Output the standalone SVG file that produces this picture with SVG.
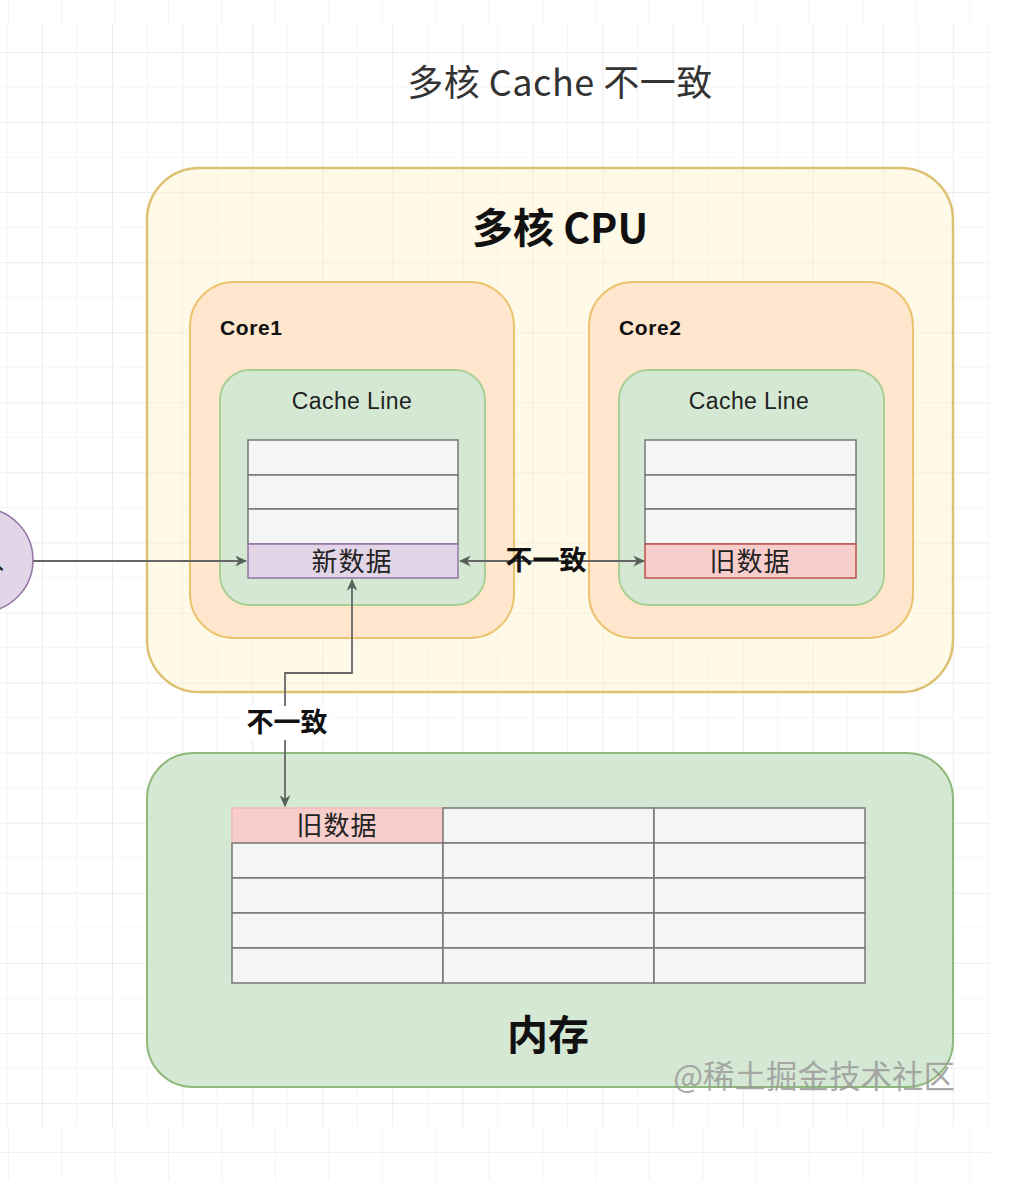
<svg xmlns="http://www.w3.org/2000/svg" width="1024" height="1180" viewBox="0 0 1024 1180">
<defs>
<pattern id="gMain" x="42" y="52" width="70.07" height="70.07" patternUnits="userSpaceOnUse">
<path d="M0 0V70.07M0 0H70.07" fill="none" stroke="#e6e6e6" stroke-width="1.5"/>
<path d="M35.03 0V70.07M0 35.03H70.07" fill="none" stroke="#f5f5f5" stroke-width="1"/>
</pattern>
<pattern id="gBand" x="8" y="0" width="53.4" height="53.4" patternUnits="userSpaceOnUse">
<path d="M0 0V53.4" fill="none" stroke="#efeded" stroke-width="1.5"/>
</pattern>
<pattern id="gBand2" x="8" y="1152" width="53.4" height="53.4" patternUnits="userSpaceOnUse">
<path d="M0 0V53.4M0 0H53.4" fill="none" stroke="#efeded" stroke-width="1.5"/>
</pattern>
<marker id="arr" viewBox="0 0 10 10" refX="9" refY="5" markerWidth="12" markerHeight="12" orient="auto-start-reverse" markerUnits="userSpaceOnUse">
<path d="M0 0.5L10 5L0 9.5L3 5Z" fill="#56635a"/>
</marker>
<style>
.cjk{font-family:"Noto Sans CJK SC","Noto Sans",sans-serif}
.lat{font-family:"Liberation Sans","Noto Sans CJK SC",sans-serif}
.cell{fill:#f5f5f5;stroke:#777;stroke-width:1.5}
.conn{fill:none;stroke:#666;stroke-width:1.8}
</style>
</defs>
<rect width="1024" height="1180" fill="#ffffff"/>
<rect x="0" y="0" width="990" height="24" fill="url(#gBand)"/>
<rect x="0" y="24" width="990" height="1103" fill="url(#gMain)"/>
<rect x="0" y="1127" width="990" height="53" fill="url(#gBand2)"/>

<text class="cjk" x="560" y="96" font-size="36" fill="#333" text-anchor="middle" letter-spacing="0.5">多核 Cache 不一致</text>

<g id="cpu">
<rect x="147" y="168" width="806" height="524" rx="52" fill="#fff2cc" fill-opacity="0.45" stroke="#dcc173" stroke-width="2.5"/>
<text class="cjk" x="560" y="243" font-size="41" font-weight="bold" fill="#111" text-anchor="middle">多核 CPU</text>
</g>

<g id="core1">
<rect x="190" y="282" width="324" height="356" rx="44" fill="#ffe6cc" stroke="#ecc36e" stroke-width="2"/>
<text class="lat" x="220" y="335" font-size="21" font-weight="bold" fill="#111" letter-spacing="0.6">Core1</text>
</g>
<g id="core2">
<rect x="589" y="282" width="324" height="356" rx="44" fill="#ffe6cc" stroke="#ecc36e" stroke-width="2"/>
<text class="lat" x="619" y="335" font-size="21" font-weight="bold" fill="#111" letter-spacing="0.6">Core2</text>
</g>

<g id="cacheline1">
<rect x="220" y="370" width="265" height="235" rx="30" fill="#d5e8d4" stroke="#a9cf94" stroke-width="2"/>
<text class="lat" x="352" y="409" font-size="23" fill="#222" text-anchor="middle" letter-spacing="0.4">Cache Line</text>
<rect class="cell" x="248" y="440" width="210" height="35"/>
<rect class="cell" x="248" y="475" width="210" height="34"/>
<rect class="cell" x="248" y="509" width="210" height="35"/>
</g>
<g id="newdata">
<rect x="248" y="544" width="210" height="34" fill="#e1d5e7" stroke="#9673a6" stroke-width="1.5"/>
<text class="cjk" x="352" y="571" font-size="26" fill="#222" text-anchor="middle" letter-spacing="1">新数据</text>
</g>

<g id="cacheline2">
<rect x="619" y="370" width="265" height="235" rx="30" fill="#d5e8d4" stroke="#a9cf94" stroke-width="2"/>
<text class="lat" x="749" y="409" font-size="23" fill="#222" text-anchor="middle" letter-spacing="0.4">Cache Line</text>
<rect class="cell" x="645" y="440" width="211" height="35"/>
<rect class="cell" x="645" y="475" width="211" height="34"/>
<rect class="cell" x="645" y="509" width="211" height="35"/>
</g>
<g id="olddata2">
<rect x="645" y="544" width="211" height="34" fill="#f8cecc" stroke="#c0504d" stroke-width="1.5"/>
<text class="cjk" x="750" y="571" font-size="26" fill="#222" text-anchor="middle" letter-spacing="1">旧数据</text>
</g>

<g id="thread">
<circle cx="-19" cy="560" r="52" fill="#e1d5e7" stroke="#9673a6" stroke-width="1.5"/>
<text class="cjk" x="4" y="569" font-size="24" fill="#222" text-anchor="end">写入</text>
</g>

<g id="memory">
<rect x="147" y="753" width="806" height="334" rx="46" fill="#d5e8d4" stroke="#8fb97a" stroke-width="2"/>
<text class="cjk" x="548" y="1050" font-size="41" font-weight="bold" fill="#111" text-anchor="middle">内存</text>
<rect x="232" y="808" width="211" height="35" fill="#f8cecc" stroke="#f4b8b6" stroke-width="1.5"/>
<text class="cjk" x="337" y="835" font-size="26" fill="#222" text-anchor="middle" letter-spacing="1">旧数据</text>
<rect class="cell" x="443" y="808" width="211" height="35"/>
<rect class="cell" x="654" y="808" width="211" height="35"/>
<rect class="cell" x="232" y="843" width="211" height="35"/>
<rect class="cell" x="443" y="843" width="211" height="35"/>
<rect class="cell" x="654" y="843" width="211" height="35"/>
<rect class="cell" x="232" y="878" width="211" height="35"/>
<rect class="cell" x="443" y="878" width="211" height="35"/>
<rect class="cell" x="654" y="878" width="211" height="35"/>
<rect class="cell" x="232" y="913" width="211" height="35"/>
<rect class="cell" x="443" y="913" width="211" height="35"/>
<rect class="cell" x="654" y="913" width="211" height="35"/>
<rect class="cell" x="232" y="948" width="211" height="35"/>
<rect class="cell" x="443" y="948" width="211" height="35"/>
<rect class="cell" x="654" y="948" width="211" height="35"/>
</g>

<g id="connectors">
<path class="conn" d="M33 561H246" marker-end="url(#arr)"/>
<path class="conn" d="M460 561H644" marker-start="url(#arr)" marker-end="url(#arr)"/>
<text class="cjk" x="546" y="570" font-size="27" font-weight="bold" fill="#111" text-anchor="middle">不一致</text>
<path class="conn" d="M352 580V673H285V806" marker-start="url(#arr)" marker-end="url(#arr)"/>
<rect x="244" y="706" width="86" height="34" fill="#ffffff"/>
<text class="cjk" x="287" y="732" font-size="27" font-weight="bold" fill="#111" text-anchor="middle">不一致</text>
</g>

<text class="cjk" x="955" y="1088" font-size="31.5" fill="#9a9a9a" fill-opacity="0.85" text-anchor="end">@稀土掘金技术社区</text>
</svg>
